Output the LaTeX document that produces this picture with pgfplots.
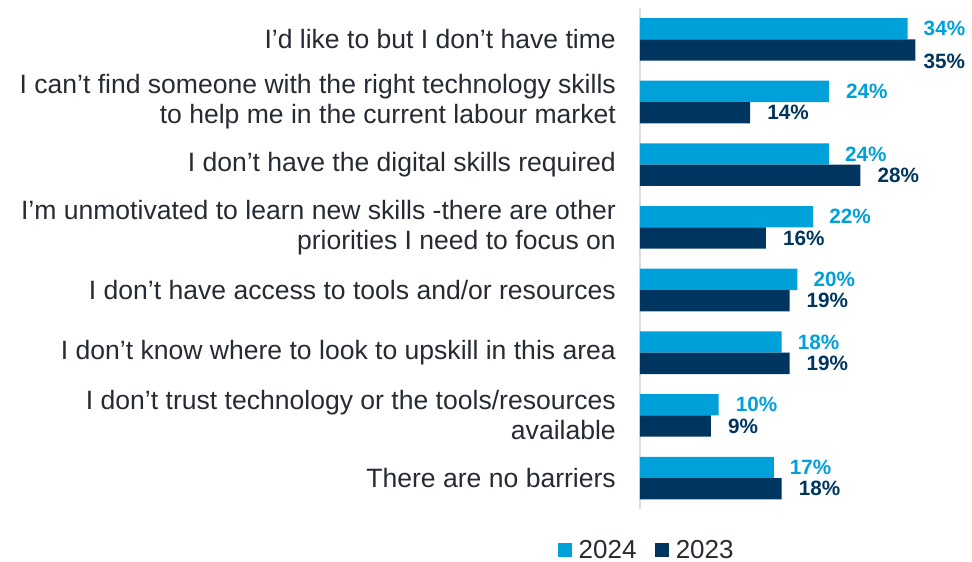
\documentclass[border=0pt]{standalone}
\usepackage{pgfplots}
\pgfplotsset{compat=1.18}
\usepackage{pgfplotstable}
\usepackage{fontspec}
\setmainfont{Liberation Sans}
\definecolor{lb}{HTML}{00A0DA}
\definecolor{nv}{HTML}{00355F}
\definecolor{txt}{HTML}{262B33}
\definecolor{axg}{HTML}{D9DEE3}
\pgfplotstableread{
y v dx dy
0 34 16 0
1 24 17 0
2 24 16 0
3 22 16 0
4 20 16 0
5 18 16 0
6 10 17 0
7 17 16 0
}\tA
\pgfplotstableread{
y v dx dy
0 35 8 -11
1 14 17 0
2 28 17 0
3 16 17 0
4 19 17 0
5 19 17 0
6 9 17 0
7 18 17 0
}\tB
\begin{document}
\begin{tikzpicture}
\begin{axis}[
  at={(0,0)}, anchor=south west,
  scale only axis, width=332pt, height=501.4pt,
  xmin=0, xmax=42.19,
  ymin=-0.5, ymax=7.5, y dir=reverse,
  axis x line=none, axis y line*=left,
  y axis line style={draw=axg, line width=1.8pt, -},
  ytick={0,...,7},
  major tick length=0pt, ytick style={draw=none},
  yticklabels={
    {I’d like to but I don’t have time},
    {I can’t find someone with the right technology skills\\to help me in the current labour market},
    {I don’t have the digital skills required},
    {I’m unmotivated to learn new skills -there are other\\priorities I need to focus on},
    {I don’t have access to tools and/or resources},
    {I don’t know where to look to upskill in this area},
    {I don’t trust technology or the tools/resources\\available},
    {There are no barriers}},
  yticklabel style={align=right, inner sep=0pt, xshift=-24pt, text=txt,
    font=\fontsize{26.55}{30}\selectfont},
  xbar, bar width=21.3pt,
  clip=false,
  /pgf/number format/assume math mode=true,
  nodes near coords={\pgfmathprintnumber{\pgfplotspointmeta}\%},
  visualization depends on={\thisrow{dx} \as \dx},
  visualization depends on={\thisrow{dy} \as \dy},
  every node near coord/.append style={anchor=west, inner sep=0pt,
    xshift=\dx pt, yshift=\dy pt, font=\fontsize{20.7}{22}\selectfont\bfseries},
  legend columns=2,
  legend style={at={(axis description cs:0.0286,-0.081)}, anchor=center,
    draw=none, fill=none, text=txt, font=\fontsize{26}{28}\selectfont,
    nodes={inner xsep=7pt, inner ysep=1pt},
    /tikz/every even column/.append style={column sep=12pt}},
]
\addplot[fill=lb, draw=none, bar shift=10.65pt,
  every node near coord/.append style={text=lb},
  legend image code/.code={\fill[lb] (0pt,-6.7pt) rectangle (13.3pt,6.7pt);}]
  table[x=v, y=y] {\tA};
\addlegendentry{2024}
\addplot[fill=nv, draw=none, bar shift=-10.65pt,
  every node near coord/.append style={text=nv},
  legend image code/.code={\fill[nv] (0pt,-6.7pt) rectangle (13.3pt,6.7pt);}]
  table[x=v, y=y] {\tB};
\addlegendentry{2023}
\end{axis}
\pgfresetboundingbox
\path (-640pt,-52.6pt) rectangle (332pt,509.4pt);
\end{tikzpicture}
\end{document}
